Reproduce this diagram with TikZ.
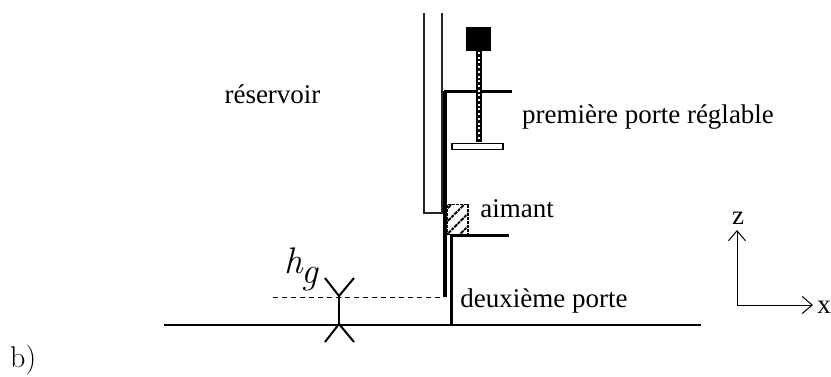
\documentclass[tikz,border=0pt]{standalone}
\usepackage{fontspec}
\setmainfont{Liberation Serif}
\newfontfamily\lmfont{Latin Modern Roman}
\usepackage{amsmath}
\usetikzlibrary{arrows.meta,patterns.meta,positioning}
\tikzstyle{label} = [inner sep=0pt, anchor=base, font=\fontsize{27}{30}\selectfont]
\tikzstyle{wall} = [draw, line width=3.6pt, color=black]
\tikzstyle{gate} = [draw, line width=3pt, color=black]
\tikzstyle{thin wall} = [draw, line width=1.9pt, color=black!85]
\tikzstyle{fork} = [draw, line width=2pt, color=black]
\tikzstyle{axis} = [draw, line width=1pt, -{Straight Barb[length=10pt,width=17pt,line width=1pt]}]
\begin{document}
\begin{tikzpicture}[x=1pt,y=-1pt]
  \useasboundingbox (0,0) rectangle (831,376);

  %%%%%%%%%%%%%%%%%%%%%%%%%%%%%%%%%%%%%%%%%%%%%%%%%%%%%%%%%%%%%%
  %                    RESERVOIR AND FIRST GATE                %
  %%%%%%%%%%%%%%%%%%%%%%%%%%%%%%%%%%%%%%%%%%%%%%%%%%%%%%%%%%%%%%

  \path[thin wall] (424,13) -- (424,213) -- (442,213) -- (442,13);
  \path[wall] (445,297) -- (445,91);
  \path[gate] (444,91) -- (512,91);

  \draw[line width=6pt, black] (479,50) -- (479,142);
  \draw[line width=2.8pt, white, dash pattern=on 2pt off 2.7pt] (479,52) -- (479,139);
  \node[fill=black, inner sep=0pt, minimum width=25pt, minimum height=24pt] (knob) at (478.5,39) {};
  \node[draw, fill=white, line width=1.5pt, inner sep=0pt, minimum width=51pt, minimum height=6pt] (plate) at (477.5,146.5) {};

  %%%%%%%%%%%%%%%%%%%%%%%%%%%%%%%%%%%%%%%%%%%%%%%%%%%%%%%%%%%%%%
  %                    MAGNET AND SECOND GATE                  %
  %%%%%%%%%%%%%%%%%%%%%%%%%%%%%%%%%%%%%%%%%%%%%%%%%%%%%%%%%%%%%%

  \node[draw, dash pattern=on 3pt off 1pt, line width=1.6pt, inner sep=0pt, minimum width=21pt, minimum height=30pt,
    pattern={Lines[angle=45,distance=9pt,line width=2pt]}] (magnet) at (457.5,219.5) {};
  \path[gate] (450,235.5) -- (509,235.5);
  \path[wall] (451.5,235) -- (451.5,325);

  %%%%%%%%%%%%%%%%%%%%%%%%%%%%%%%%%%%%%%%%%%%%%%%%%%%%%%%%%%%%%%
  %                    GROUND AND GAP HEIGHT                   %
  %%%%%%%%%%%%%%%%%%%%%%%%%%%%%%%%%%%%%%%%%%%%%%%%%%%%%%%%%%%%%%

  \path[gate, line width=2.2pt] (164,325) -- (701,325);
  \draw[line width=1pt, dash pattern=on 5pt off 4pt] (273,297) -- (444,297);
  \path[fork] (325,278) -- (339,296) -- (354,278);
  \path[fork] (339,296) -- (339,324);
  \path[fork] (325,342) -- (339,324) -- (354,342);

  %%%%%%%%%%%%%%%%%%%%%%%%%%%%%%%%%%%%%%%%%%%%%%%%%%%%%%%%%%%%%%
  %                    AXES                                    %
  %%%%%%%%%%%%%%%%%%%%%%%%%%%%%%%%%%%%%%%%%%%%%%%%%%%%%%%%%%%%%%

  \coordinate (origin) at (737,305);
  \coordinate (z-end) at (737,230);
  \coordinate (x-end) at (813,305);
  \path[axis] (origin) -- (z-end);
  \path[axis] (origin) -- (x-end);

  %%%%%%%%%%%%%%%%%%%%%%%%%%%%%%%%%%%%%%%%%%%%%%%%%%%%%%%%%%%%%%
  %                    LABELS                                  %
  %%%%%%%%%%%%%%%%%%%%%%%%%%%%%%%%%%%%%%%%%%%%%%%%%%%%%%%%%%%%%%

  \node[label] (reservoir) at (272.5,103) {réservoir};
  \node[label] (first-gate) at (648,123) {première porte réglable};
  \node[label] (magnet-label) at (517,217) {aimant};
  \node[label] (second-gate) at (544,307) {deuxième porte};
  \node[label] (z-label) at (738,224) {z};
  \node[label] (x-label) at (824,313) {x};
  \node[inner sep=0pt, anchor=base west, font=\lmfont\itshape\fontsize{37}{39}\selectfont] (gap-label) at (284,273) {h\kern-1pt\raisebox{-10pt}{g}};
  \node[inner sep=0pt, anchor=base west, font=\lmfont\fontsize{30}{32}\selectfont] (part-label) at (10,367) {b)};

\end{tikzpicture}
\end{document}
